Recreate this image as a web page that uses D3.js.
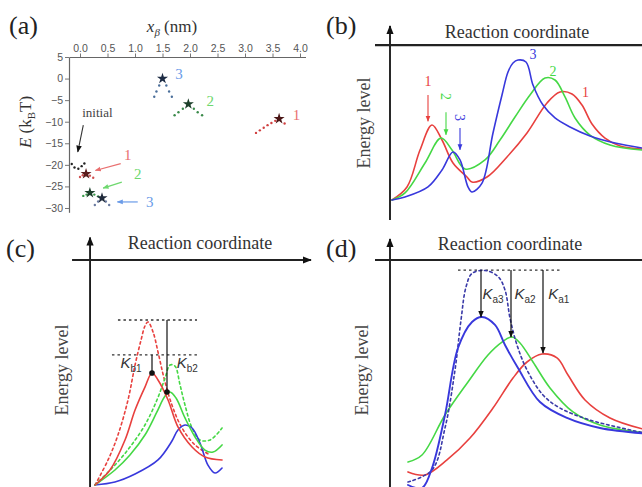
<!DOCTYPE html>
<html><head><meta charset="utf-8">
<script src="https://cdn.jsdelivr.net/npm/d3@7/dist/d3.min.js"></script>
<style>body{margin:0;background:#fff}svg{display:block}</style>
</head><body>
<svg id="fig" width="642" height="487"></svg>
<script>
// ---------------- DATA ----------------
// Panel (a): x_beta (nm) vs E (kBT)
const aTicksX = [0, 0.5, 1, 1.5, 2, 2.5, 3, 3.5, 4];
const aTicksY = [5, 0, -5, -10, -15, -20, -25, -30];
const aInitialDots = [[-0.15,-19.8],[-0.1,-20.6],[-0.03,-20.9],[0.03,-20.3],[0.08,-19.7]];
const aLow1Dots = [[0.0,-22.8],[0.05,-22.4],[0.18,-22.5],[0.24,-23.0]];
const aLow1Star = [0.11,-22.1];
const aLow2Dots = [[0.06,-27.2],[0.12,-26.9],[0.26,-26.9],[0.33,-27.3]];
const aLow2Star = [0.18,-26.5];
const aLow3Dots = [[0.27,-29.3],[0.33,-28.5],[0.47,-28.5],[0.53,-29.3]];
const aLow3Star = [0.4,-27.7];
const aHigh3Dots = [[1.35,-4.2],[1.39,-3.0],[1.44,-1.6],[1.57,-1.6],[1.62,-3.0],[1.67,-4.2]];
const aHigh3Star = [1.5,0.0];
const aHigh2Dots = [[1.72,-8.5],[1.79,-7.8],[1.87,-7.0],[2.07,-7.0],[2.14,-7.8],[2.22,-8.5]];
const aHigh2Star = [1.97,-5.9];
const aHigh1Dots = [[3.2,-12.6],[3.27,-12.0],[3.34,-11.4],[3.41,-10.8],[3.48,-10.3],[3.55,-9.8],[3.72,-10.4]];
const aHigh1Star = [3.62,-9.3];

// Panel (b): energy profiles (reaction coordinate 0-10, energy 0-10)
const bCurve1 = [[0,0],[0.6,0.87],[1.12,3.33],[1.6,5.0],[2.0,4.0],[2.44,2.47],[3.0,1.53],[3.2,1.2],[3.8,1.53],[4.6,2.87],[5.4,4.47],[6.2,6.47],[6.72,7.2],[7.2,7.07],[7.6,6.33],[8.0,5.07],[8.52,4.13],[9.12,3.6],[10,3.4]];
const bCurve2 = [[0,0],[0.52,0.47],[1.32,2.47],[1.96,4.13],[2.4,3.33],[2.92,2.07],[3.72,2.67],[4.32,4.0],[4.92,5.53],[5.52,7.0],[6.12,8.13],[6.52,8.0],[6.92,6.87],[7.32,5.47],[7.92,4.33],[8.72,3.67],[10,3.33]];
const bCurve3 = [[0,0],[0.52,0.2],[1.44,0.87],[2.0,2.0],[2.44,3.2],[2.72,2.67],[3.04,0.87],[3.2,0.53],[3.6,1.13],[4.04,4.47],[4.4,7.0],[4.64,8.53],[4.84,9.13],[5.04,9.33],[5.36,9.2],[5.64,7.67],[6.04,6.33],[6.52,5.47],[7.12,4.87],[7.92,4.27],[8.92,3.8],[10,3.47]];

// Panel (c): first barrier (solid and dashed)
const cRedDashed = [[0.2,0],[1.07,1.67],[1.73,3.33],[2.4,5.67],[2.87,8.0],[3.27,9.67],[3.53,10.6],[3.73,10.87],[4.07,10.2],[4.4,8.87],[4.8,7.13],[5.33,5.33],[6.0,3.8],[6.87,2.67],[7.87,2.0]];
const cRedSolid = [[0.2,0],[1.2,1.0],[2.2,3.0],[2.87,5.0],[3.53,6.53],[4.0,7.47],[4.4,7.0],[5.07,5.67],[5.73,3.87],[6.67,2.53],[7.53,1.87],[8.67,1.67]];
const cGreenDashed = [[0.2,0],[1.53,1.33],[2.53,2.53],[3.53,4.0],[4.33,5.67],[4.87,7.13],[5.2,8.0],[5.53,7.93],[5.87,6.67],[6.2,5.33],[6.67,3.8],[7.2,3.0],[7.87,3.0],[8.67,3.8]];
const cGreenSolid = [[0.2,0],[1.53,1.0],[2.53,2.0],[3.53,3.33],[4.33,4.87],[4.87,5.93],[5.2,6.2],[5.6,5.8],[6.2,4.47],[6.87,3.2],[7.53,2.33],[8.07,2.2],[8.67,2.67]];
const cBlueSolid = [[0.2,0],[1.53,0.2],[2.87,0.73],[4.4,1.67],[5.33,2.93],[5.73,3.67],[6.2,4.0],[6.67,3.8],[7.2,2.8],[7.73,1.33],[8.2,0.8],[8.67,1.13]];
const cLevels = [11.0, 8.67];
const cArrows = [{x:4.0, from:8.67, to:7.47, label:"b1"}, {x:5.0, from:11.0, to:6.2, label:"b2"}];

// Panel (d): second barrier
const dBlueSolid = [[0.32,0],[0.88,-0.2],[1.28,1.13],[1.8,4.67],[2.32,9.13],[2.88,10.87],[3.28,11.2],[3.8,10.67],[4.2,9.33],[4.72,7.8],[5.6,5.53],[6.68,4.47],[8.0,3.8],[9.68,3.45]];
const dGreenSolid = [[0.32,1.53],[0.88,2.0],[1.8,4.67],[2.72,6.87],[3.52,8.67],[4.08,9.53],[4.48,9.87],[4.8,9.47],[5.32,8.2],[6.0,6.47],[6.92,4.87],[8.0,4.0],[9.68,3.5]];
const dRedSolid = [[0.32,0.87],[1.0,0.67],[1.88,1.67],[2.8,3.13],[3.72,5.13],[4.52,7.13],[5.08,8.2],[5.68,8.73],[6.28,8.47],[6.72,7.33],[7.4,5.67],[8.4,4.47],[9.68,3.75]];
const dBlueDashed = [[0.32,0.2],[1.28,1.0],[1.8,3.8],[2.2,7.67],[2.44,11.0],[2.64,13.2],[2.88,14.1],[3.4,14.3],[3.92,13.9],[4.2,13.0],[4.4,11.13],[4.68,9.33],[5.08,7.67],[5.72,6.0],[6.4,5.13],[7.6,4.33],[9.68,3.5]];
const dLevel = 14.33;
const dArrows = [{x:3.24, to:11.2, label:"a3"}, {x:4.44, to:9.87, label:"a2"}, {x:5.72, to:8.8, label:"a1"}];

// ---------------- DRAWING ----------------
const RED = "#e8403e", GREEN = "#45d845", BLUE = "#3838dc", INK = "#222";
const svg = d3.select("#fig");
const defs = svg.append("defs");
function marker(id, color, size) {
  defs.append("marker").attr("id", id).attr("viewBox", "0 0 10 10")
    .attr("refX", 9).attr("refY", 5).attr("markerWidth", size).attr("markerHeight", size)
    .attr("markerUnits", "userSpaceOnUse").attr("orient", "auto")
    .append("path").attr("d", "M0,1 L10,5 L0,9 Z").attr("fill", color);
}
marker("mk", "#111", 7); marker("mkAxis", "#111", 9);
marker("mkR", "#e97070", 6); marker("mkG", "#6ed86e", 6); marker("mkB", "#6a9be8", 6);
marker("mkRb", RED, 6); marker("mkGb", GREEN, 6); marker("mkBb", BLUE, 6);

const serif = "Liberation Serif, Times New Roman, serif";
const sans = "Liberation Sans, Arial, sans-serif";

function curve(g, pts, xs, ys, color, dashed, w) {
  g.append("path").datum(pts)
    .attr("d", d3.line().x(d => xs(d[0])).y(d => ys(d[1])).curve(d3.curveCatmullRom.alpha(0.5)))
    .attr("fill", "none").attr("stroke", color).attr("stroke-width", w || 1.6)
    .attr("stroke-dasharray", dashed ? "2.5,3" : null).attr("stroke-linecap", "round");
}
function panelLabel(t, x, y) {
  svg.append("text").attr("x", x).attr("y", y).text(t)
    .attr("font-family", serif).attr("font-size", 26).attr("fill", INK);
}
function energyAxes(xs, ys, opt) {
  const g = svg.append("g");
  g.append("line").attr("x1", xs(opt.vx)).attr("x2", xs(opt.vx)).attr("y1", ys(opt.vy0)).attr("y2", ys(opt.vy1))
    .attr("stroke", "#111").attr("stroke-width", 1.8).attr("marker-end", "url(#mkAxis)");
  g.append("line").attr("x1", xs(opt.hx0)).attr("x2", xs(opt.hx1)).attr("y1", ys(opt.hy)).attr("y2", ys(opt.hy))
    .attr("stroke", "#222").attr("stroke-width", 2.2).attr("marker-end", opt.harrow ? "url(#mkAxis)" : null);
  g.append("text").attr("x", opt.tx).attr("y", opt.ty).attr("text-anchor", "middle")
    .attr("font-family", serif).attr("font-size", 18).attr("fill", "#333").text("Reaction coordinate");
  g.append("text").attr("transform", `translate(${opt.ex},${opt.ey}) rotate(-90)`).attr("text-anchor", "middle")
    .attr("font-family", serif).attr("font-size", 18).attr("fill", "#444").text("Energy level");
}
function kLabel(g, x, y, sub) {
  const t = g.append("text").attr("x", x).attr("y", y).attr("text-anchor", "middle")
    .attr("font-family", sans).attr("font-size", 15).attr("fill", "#333");
  t.append("tspan").attr("font-style", "italic").text("K");
  t.append("tspan").attr("font-size", 10).attr("dy", 4).text(sub);
}

// ---- Panel (a) ----
(function () {
  const xs = d3.scaleLinear().domain([-0.2, 4.1]).range([69, 305.5]);
  const ys = d3.scaleLinear().domain([-31, 5]).range([212.3, 57]);
  const g = svg.append("g");
  const top = g.append("g").attr("transform", `translate(0,${ys(5)})`);
  top.call(d3.axisTop(xs).tickValues(d3.range(0, 4.05, 0.1)).tickSize(2).tickSizeOuter(0).tickFormat(""));
  top.call(d3.axisTop(xs).tickValues(aTicksX).tickSize(3.5).tickSizeOuter(0).tickPadding(2).tickFormat(d3.format(".1f")));
  const left = g.append("g").attr("transform", `translate(${xs(-0.2)},0)`);
  left.call(d3.axisLeft(ys).tickValues(d3.range(-31, 5.1, 1)).tickSize(2).tickSizeOuter(0).tickFormat(""));
  left.call(d3.axisLeft(ys).tickValues(aTicksY).tickSize(4).tickSizeOuter(0).tickPadding(2).tickFormat(d3.format("d")));
  g.selectAll(".domain").attr("stroke", "#666").attr("stroke-width", 1.2);
  g.selectAll(".tick line").attr("stroke", "#777");
  g.selectAll(".tick text").attr("font-family", sans).attr("font-size", 10.5).attr("fill", "#555");

  const sets = [
    {dots: aInitialDots, star: null, c: "#222", sc: "#222"},
    {dots: aLow1Dots, star: aLow1Star, c: "#d05050", sc: "#5a1c1c"},
    {dots: aLow2Dots, star: aLow2Star, c: "#3a9a4a", sc: "#1c3f2a"},
    {dots: aLow3Dots, star: aLow3Star, c: "#6a7aa0", sc: "#1f2a3a"},
    {dots: aHigh3Dots, star: aHigh3Star, c: "#4a6e9a", sc: "#1d2c44"},
    {dots: aHigh2Dots, star: aHigh2Star, c: "#3a8a4a", sc: "#1d3f2a"},
    {dots: aHigh1Dots, star: aHigh1Star, c: "#d04040", sc: "#4a1616"}
  ];
  sets.forEach(s => {
    g.selectAll(null).data(s.dots).enter().append("circle")
      .attr("cx", d => xs(d[0])).attr("cy", d => ys(d[1])).attr("r", 1.2).attr("fill", s.c);
    if (s.star) g.append("path").attr("d", d3.symbol(d3.symbolStar, 38)())
      .attr("transform", `translate(${xs(s.star[0])},${ys(s.star[1])})`).attr("fill", s.sc);
  });
  const ann = [
    {x1: 0.74, y1: -19.7, x2: 0.28, y2: -21.3, c: "#e97070", m: "mkR", t: "1", tx: 0.8, ty: -18.8},
    {x1: 0.76, y1: -24.0, x2: 0.42, y2: -25.4, c: "#6ed86e", m: "mkG", t: "2", tx: 0.98, ty: -23.2},
    {x1: 1.05, y1: -28.6, x2: 0.68, y2: -28.6, c: "#6a9be8", m: "mkB", t: "3", tx: 1.2, ty: -29.8}
  ];
  ann.forEach(a => {
    g.append("line").attr("x1", xs(a.x1)).attr("y1", ys(a.y1)).attr("x2", xs(a.x2)).attr("y2", ys(a.y2))
      .attr("stroke", a.c).attr("stroke-width", 1.2).attr("marker-end", `url(#${a.m})`);
    g.append("text").attr("x", xs(a.tx)).attr("y", ys(a.ty)).text(a.t)
      .attr("font-family", serif).attr("font-size", 15).attr("fill", a.c);
  });
  g.append("text").attr("x", xs(0.04)).attr("y", ys(-9.0)).text("initial")
    .attr("font-family", serif).attr("font-size", 13).attr("fill", "#444");
  g.append("line").attr("x1", xs(0.06)).attr("y1", ys(-10.8)).attr("x2", xs(-0.04)).attr("y2", ys(-17.0))
    .attr("stroke", "#333").attr("stroke-width", 1.1).attr("marker-end", "url(#mk)");
  [{t: "3", x: 1.73, y: -0.1, c: "#6a9be8"}, {t: "2", x: 2.3, y: -6.3, c: "#6ed86e"}, {t: "1", x: 3.87, y: -9.6, c: "#e97070"}]
    .forEach(l => g.append("text").attr("x", xs(l.x)).attr("y", ys(l.y)).text(l.t)
      .attr("font-family", serif).attr("font-size", 15).attr("fill", l.c));
  const xt = g.append("text").attr("x", 172).attr("y", 32).attr("text-anchor", "middle")
    .attr("font-family", serif).attr("font-size", 17).attr("fill", "#333");
  xt.append("tspan").attr("font-style", "italic").text("x");
  xt.append("tspan").attr("font-size", 11).attr("dy", 4).attr("font-style", "italic").text("β");
  xt.append("tspan").attr("dy", -4).text(" (nm)");
  const yt = g.append("text").attr("transform", "translate(31,122) rotate(-90)").attr("text-anchor", "middle")
    .attr("font-family", serif).attr("font-size", 17).attr("fill", "#333");
  yt.append("tspan").attr("font-style", "italic").text("E");
  yt.append("tspan").text(" (k");
  yt.append("tspan").attr("font-size", 11).attr("dy", 4).text("B");
  yt.append("tspan").attr("dy", -4).text("T)");
  panelLabel("(a)", 9, 34);
})();

// ---- Panel (b) ----
(function () {
  const xs = d3.scaleLinear().domain([0, 10]).range([392, 642]);
  const ys = d3.scaleLinear().domain([0, 10]).range([200, 50]);
  energyAxes(xs, ys, {vx: -0.08, vy0: -1.33, vy1: 11.6, hx0: -0.68, hx1: 10.2, hy: 10.33, harrow: false,
    tx: 517, ty: 38, ex: 370, ey: 123});
  const g = svg.append("g");
  curve(g, bCurve1, xs, ys, RED);
  curve(g, bCurve2, xs, ys, GREEN);
  curve(g, bCurve3, xs, ys, BLUE);
  const arr = [{x: 1.44, y1: 7.0, y2: 5.25, c: RED, m: "mkRb", t: "1", ty: 7.6, rot: false},
               {x: 2.16, y1: 5.85, y2: 4.35, c: GREEN, m: "mkGb", t: "2", ty: 6.9, rot: true},
               {x: 2.72, y1: 4.8, y2: 3.35, c: BLUE, m: "mkBb", t: "3", ty: 5.5, rot: true}];
  arr.forEach(a => {
    g.append("line").attr("x1", xs(a.x)).attr("x2", xs(a.x)).attr("y1", ys(a.y1)).attr("y2", ys(a.y2))
      .attr("stroke", a.c).attr("stroke-width", 1.1).attr("marker-end", `url(#${a.m})`);
    g.append("text").attr("transform", `translate(${xs(a.x)},${ys(a.ty)}) rotate(${a.rot ? 90 : 0})`)
      .attr("text-anchor", "middle").attr("dy", a.rot ? "0.35em" : 0).text(a.t)
      .attr("font-family", serif).attr("font-size", 14).attr("fill", a.c);
  });
  [{t: "3", x: 5.5, y: 9.4, c: BLUE}, {t: "2", x: 6.3, y: 8.3, c: GREEN}, {t: "1", x: 7.6, y: 6.85, c: RED}]
    .forEach(l => g.append("text").attr("x", xs(l.x)).attr("y", ys(l.y)).text(l.t)
      .attr("font-family", serif).attr("font-size", 14).attr("fill", l.c));
  panelLabel("(b)", 326, 34);
})();

// ---- Panel (c) ----
(function () {
  const xs = d3.scaleLinear().domain([0, 10]).range([92, 242]);
  const ys = d3.scaleLinear().domain([0, 10]).range([485, 335]);
  energyAxes(xs, ys, {vx: -0.13, vy0: -0.2, vy1: 16.5, hx0: -1.33, hx1: 14.6, hy: 15, harrow: true,
    tx: 200, ty: 249, ex: 68, ey: 370});
  const g = svg.append("g");
  cLevels.forEach((lv, i) => g.append("line")
    .attr("x1", xs(i === 0 ? 1.73 : 1.33)).attr("x2", xs(7.0)).attr("y1", ys(lv)).attr("y2", ys(lv))
    .attr("stroke", "#333").attr("stroke-width", 1.3).attr("stroke-dasharray", "2.5,3"));
  curve(g, cRedDashed, xs, ys, RED, true);
  curve(g, cGreenDashed, xs, ys, GREEN, true);
  curve(g, cBlueSolid, xs, ys, BLUE);
  curve(g, cGreenSolid, xs, ys, GREEN);
  curve(g, cRedSolid, xs, ys, RED);
  cArrows.forEach(a => {
    g.append("line").attr("x1", xs(a.x)).attr("x2", xs(a.x)).attr("y1", ys(a.from)).attr("y2", ys(a.to) - 2)
      .attr("stroke", "#111").attr("stroke-width", 1.2);
    g.append("circle").attr("cx", xs(a.x)).attr("cy", ys(a.to)).attr("r", 2.8).attr("fill", "#111");
  });
  kLabel(g, xs(2.6), ys(7.8), "b1");
  kLabel(g, xs(6.35), ys(7.8), "b2");
  panelLabel("(c)", 6, 257);
})();

// ---- Panel (d) ----
(function () {
  const xs = d3.scaleLinear().domain([0, 10]).range([400, 650]);
  const ys = d3.scaleLinear().domain([0, 10]).range([485, 335]);
  energyAxes(xs, ys, {vx: -0.4, vy0: -0.2, vy1: 16.4, hx0: -1.0, hx1: 9.8, hy: 15, harrow: false,
    tx: 510, ty: 250, ex: 368, ey: 370});
  const g = svg.append("g");
  g.append("line").attr("x1", xs(2.32)).attr("x2", xs(6.48)).attr("y1", ys(dLevel)).attr("y2", ys(dLevel))
    .attr("stroke", "#333").attr("stroke-width", 1.3).attr("stroke-dasharray", "2.5,3");
  curve(g, dRedSolid, xs, ys, RED);
  curve(g, dGreenSolid, xs, ys, GREEN);
  curve(g, dBlueDashed, xs, ys, "#3a3aa8", true);
  curve(g, dBlueSolid, xs, ys, BLUE, false, 1.9);
  dArrows.forEach(a => {
    g.append("line").attr("x1", xs(a.x)).attr("x2", xs(a.x)).attr("y1", ys(dLevel)).attr("y2", ys(a.to))
      .attr("stroke", "#111").attr("stroke-width", 1.2).attr("marker-end", "url(#mk)");
  });
  kLabel(g, xs(3.72), ys(12.4), "a3");
  kLabel(g, xs(5.0), ys(12.4), "a2");
  kLabel(g, xs(6.35), ys(12.4), "a1");
  panelLabel("(d)", 326, 257);
})();
</script>
</body></html>
